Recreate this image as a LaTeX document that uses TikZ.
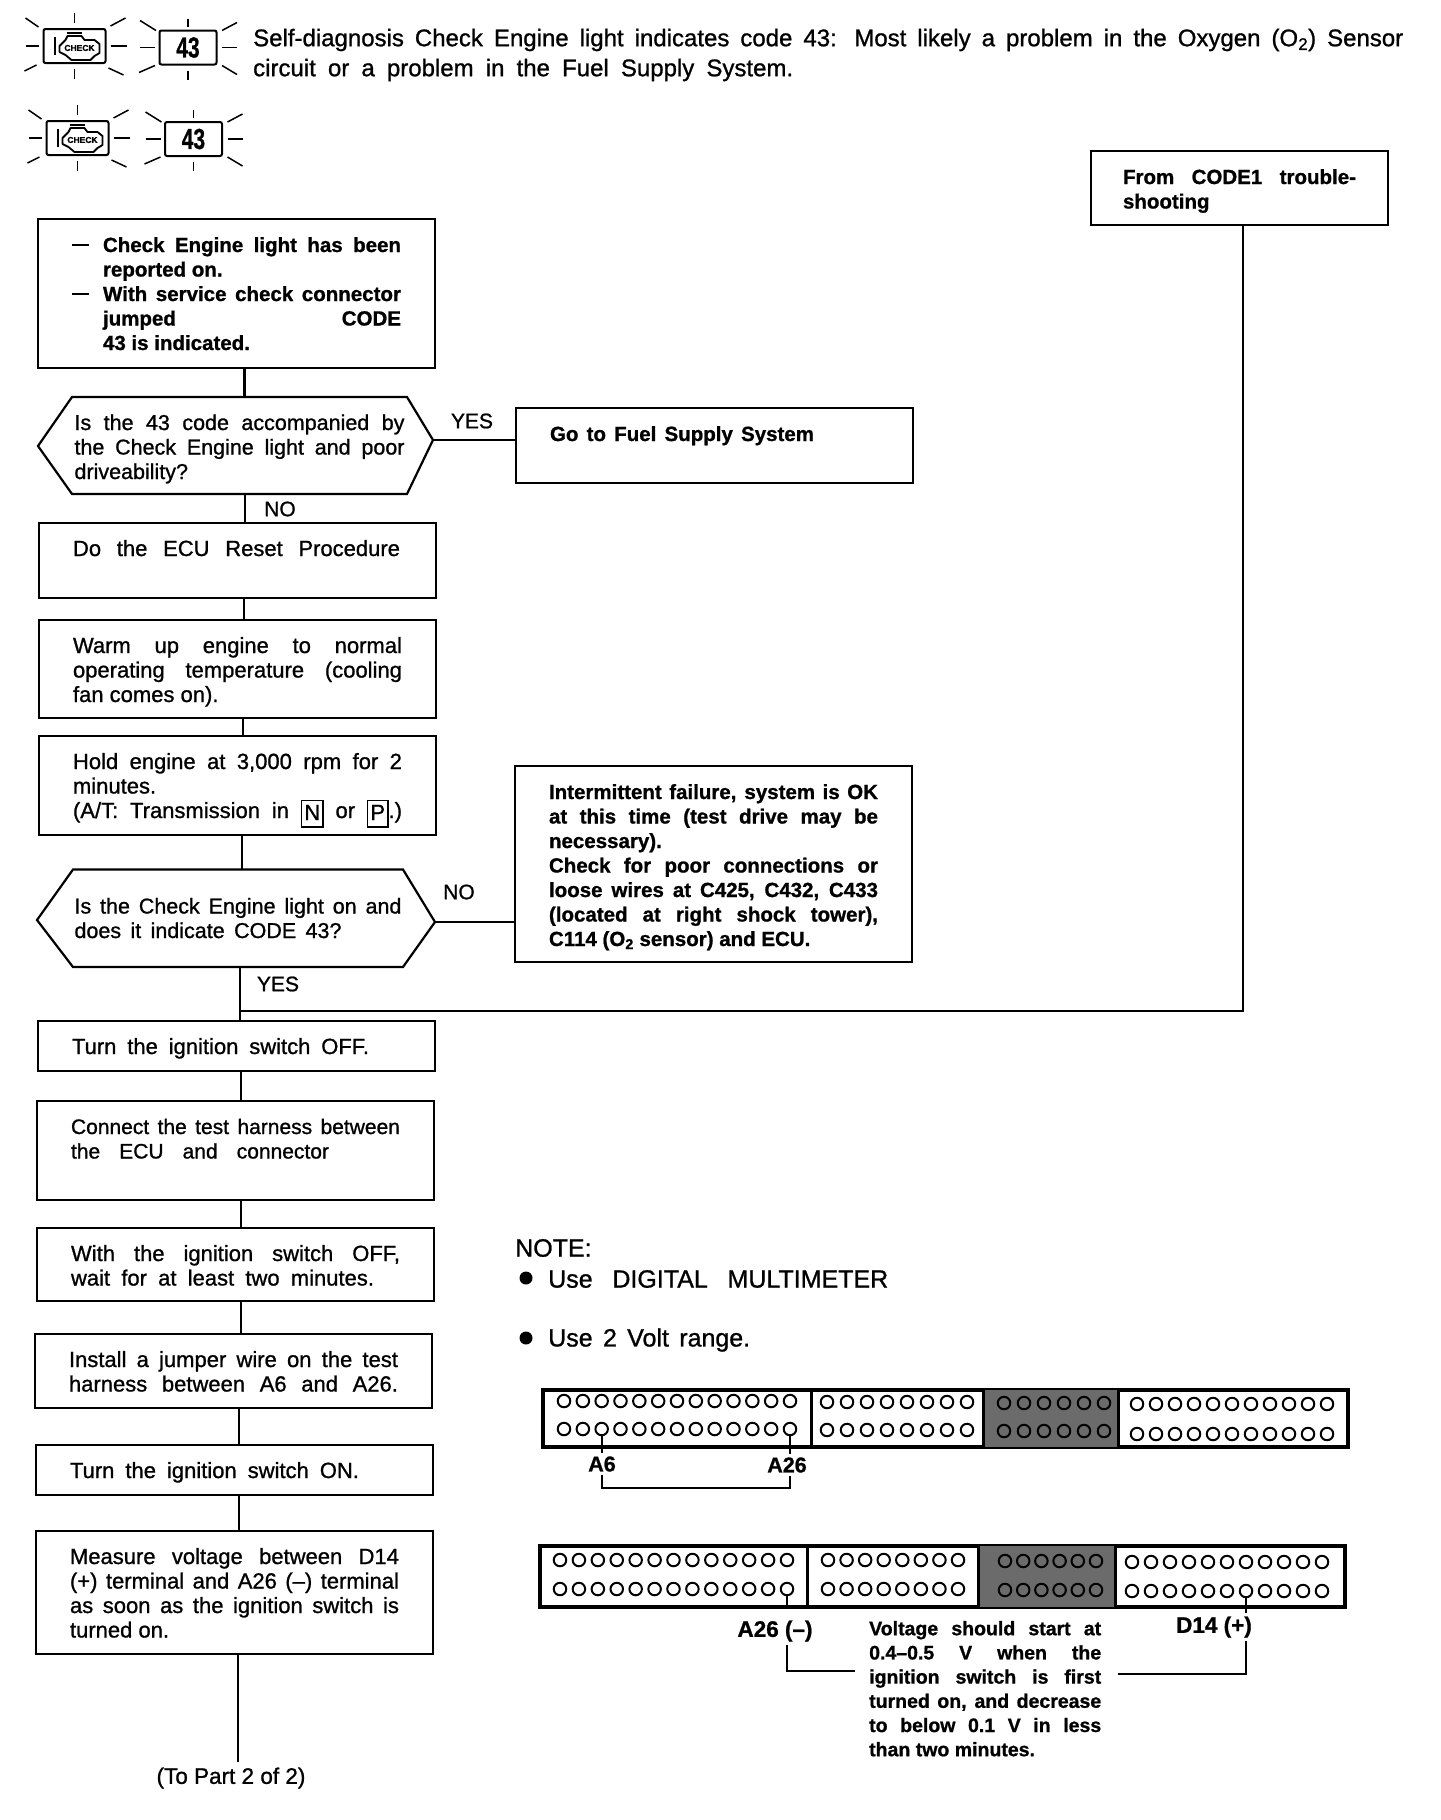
\documentclass[tikz,border=0pt]{standalone}
\usepackage{fontspec}
\setmainfont{Liberation Sans}[FakeBold=1]
\usetikzlibrary{shapes.symbols}
\tolerance=10000
\hbadness=10000
\hfuzz=30pt
\newcommand{\keycap}[1]{\smash{\raisebox{-2pt}{\setlength{\fboxsep}{2pt}\setlength{\fboxrule}{1.5pt}\fbox{\rule[-4pt]{0pt}{21pt}#1}}}}
\newcommand{\fitline}[2]{\makebox[#1pt][s]{#2}}
\newcommand{\itemdash}{\noindent\hbox to 31pt{\rule[6pt]{17pt}{1.8pt}\hfil}}
\newcommand{\connpins}[6]{%
    \foreach \i in {1,...,#4}{
        \node[pinhole] (#1u\i) at ({#2+(\i-1)*(#3-#2)/(#4-1)},#5) {};
        \node[pinhole] (#1l\i) at ({#2+(\i-1)*(#3-#2)/(#4-1)},#6) {};
    }}
\tikzset{
    stepbox/.style={draw,line width=2.2pt,anchor=north west,outer sep=0pt,inner xsep=34pt,inner ysep=10pt,align=justify,
        text width=329pt,text height=23pt,text depth=#1,font=\fontsize{22}{24.5}\selectfont},
    boldbox/.style={stepbox=#1,font=\fontsize{20.5}{24.5}\selectfont\bfseries},
    decibox/.style 2 args={anchor=north west,align=justify,outer sep=0pt,inner ysep=0pt,
        text height=#1,text depth=#2,font=\fontsize{21.5}{24.5}\selectfont},
    flowline/.style={line width=2.2pt},
    deciline/.style={line width=2.2pt,line join=miter},
    wireline/.style={line width=1.7pt},
    flowlabel/.style={font=\fontsize{21}{24}\selectfont},
    pinlabel/.style={font=\fontsize{21.5}{24}\selectfont\bfseries},
    pinhole/.style={draw,circle,line width=2pt,minimum size=12.5pt,inner sep=0pt},
    lampbox/.style={draw,line width=2pt,rounded corners=2pt,minimum width=57pt,minimum height=34pt,inner sep=0pt},
    lampengine/.style={draw,line width=2pt,rounded corners=2pt,minimum width=62pt,minimum height=34pt,inner sep=0pt},
    notetext/.style={anchor=west,inner sep=0pt,font=\fontsize{25}{28}\selectfont},
    notebullet/.style={circle,fill,minimum size=13pt,inner sep=0pt},
    connframe/.style={draw,line width=3.4pt,anchor=north west,outer sep=0pt,inner sep=0pt},
}
\begin{document}
\begin{tikzpicture}[x=1pt,y=-1pt]
    \useasboundingbox[fill=white] (0,0) rectangle (1440,1820);
    % flashing lamps
    \foreach \p/\cx/\cy in {a/74.5/46,b/77.5/138}{
        \node[lampengine] (engine\p) at (\cx,\cy) {};
        \begin{scope}[shift={(\cx,\cy)}]
            \draw[line width=1.8pt,line join=round] (-15,0) -- (-9,-6) -- (-7,-10) -- (7,-10) -- (10,-6) -- (20,-6) -- (25,-2) -- (25,7) -- (20,10) -- (16,14) -- (-3,14) -- (-9,9) -- (-15,6) -- cycle;
            \draw[line width=2pt] (-20,-9) -- (-20,9) (-8,-13) -- (7,-13);
            \node[inner sep=0pt,font=\fontsize{8.5}{9}\selectfont\bfseries] (enginetext\p) at (5,2) {CHECK};
            \foreach \ax/\ay/\bx/\by in {0/-33/0/-23,0/23/0/33,-49/0/-36/0,36/0/52/0,-49/-28/-36/-19,36/-20/51/-28,-50/25/-38/19,34/22/49/29}{
                \draw[line width=1.5pt] (\ax,\ay) -- (\bx,\by);
            }
        \end{scope}
    }
    \foreach \p/\cx/\cy in {a/188/47.5,b/193.5/139}{
        \node[lampbox] (code\p) at (\cx,\cy) {\fontsize{29}{30}\selectfont\bfseries\scalebox{0.72}[1]{43}};
        \begin{scope}[shift={(\cx,\cy)}]
            \foreach \ax/\ay/\bx/\by in {0/-29/0/-21,0/23/0/32,-48/0/-33/0,34/0/49/0,-48/-27/-32/-17,34/-17/49/-25,-49/25/-33/18,34/18/49/27}{
                \draw[line width=1.5pt] (\ax,\ay) -- (\bx,\by);
            }
        \end{scope}
    }
    \node[anchor=north west,inner sep=0pt,align=justify,text width=1150pt,text height=22pt,font=\fontsize{24}{30}\selectfont] (headline) at (253,24)
        {Self-diagnosis Check Engine light indicates code 43: Most likely a problem in the Oxygen (O\textsubscript{2}) Sensor\linebreak \fitline{540}{circuit or a problem in the Fuel Supply System.}};
    % flow boxes
    \node[boldbox=106pt] (stepa) at (38,219) {%
        \hangindent=31pt\hangafter=1\itemdash Check Engine light has been\linebreak reported on.\par
        \hangindent=31pt\hangafter=1\itemdash With service check connector\linebreak jumped\hfill CODE\linebreak 43 is indicated.\par};
    \node[decibox={33pt}{64pt},inner xsep=2.5pt,text width=330pt] (decia) at (72,397)
        {Is the 43 code accompanied by\linebreak the Check Engine light and poor\linebreak driveability?};
    \coordinate (deciaeast) at (433,440);
    \coordinate (deciawest) at (38,446);
    \draw[deciline] (decia.north west) -- (decia.north east) -- (deciaeast) -- (decia.south east) -- (decia.south west) -- (deciawest) -- cycle;
    \node[boldbox=32pt] (fuel) at (516,408) {\fitline{264}{Go to Fuel Supply System}};
    \node[stepbox=32pt] (stepc) at (39,523) {\fitline{327}{Do the ECU Reset Procedure}};
    \node[stepbox=55pt] (stepd) at (39,620) {Warm up engine to normal\linebreak operating temperature (cooling\linebreak fan comes on).};
    \node[stepbox=56pt] (stepe) at (39,736) {Hold engine at 3,000 rpm for 2\linebreak minutes.\hfill\linebreak \fitline{329}{(A/T: Transmission in \keycap{N} or \keycap{P}.)}};
    \node[decibox={44pt}{53.5pt},inner xsep=1.5pt,text width=327pt] (decib) at (73,869.5)
        {Is the Check Engine light on and\linebreak \fitline{267}{does it indicate CODE 43?}};
    \coordinate (decibeast) at (435,922);
    \coordinate (decibwest) at (37,920);
    \draw[deciline] (decib.north west) -- (decib.north east) -- (decibeast) -- (decib.south east) -- (decib.south west) -- (decibwest) -- cycle;
    \node[boldbox=153pt] (intermit) at (515,766) {Intermittent failure, system is OK\linebreak at this time (test drive may be\linebreak necessary).\par
        Check for poor connections or\linebreak loose wires at C425, C432, C433\linebreak (located at right shock tower),\linebreak C114 (O\textsubscript{2} sensor) and ECU.};
    \node[boldbox=31pt,text width=233pt,inner xsep=32pt] (codeone) at (1091,151) {From CODE1 trouble-\linebreak shooting};
    \node[stepbox=7pt] (stepf) at (38,1021) {\fitline{297}{Turn the ignition switch OFF.}};
    \node[stepbox=56pt,font=\fontsize{21}{24.5}\selectfont] (stepg) at (37,1101) {Connect the test harness between\linebreak \fitline{258}{the ECU and connector}};
    \node[stepbox=30pt] (steph) at (37,1228) {\fitline{329}{With the ignition switch OFF,}\linebreak \fitline{303}{wait for at least two minutes.}};
    \node[stepbox=31pt] (stepi) at (35,1334) {\fitline{329}{Install a jumper wire on the test}\linebreak \fitline{329}{harness between A6 and A26.}};
    \node[stepbox=7pt] (stepj) at (36,1445) {\fitline{289}{Turn the ignition switch ON.}};
    \node[stepbox=80pt] (stepk) at (36,1531) {Measure voltage between D14\linebreak (+) terminal and A26 (--) terminal\linebreak as soon as the ignition switch is\linebreak turned on.};
    \node[inner sep=0pt,font=\fontsize{22.5}{24}\selectfont] (topart) at (231,1778) {(To Part 2 of 2)};
    \coordinate (flowend) at (238,1762);
    \coordinate (joinyes) at (240,1011);
    % connecting lines
    \foreach \p/\q/\s in {stepa.south/decia.north/8,decia.south/stepc.north/5.5,stepc.south/stepd.north/6.5,stepd.south/stepe.north/5.5,stepe.south/decib.north/4.5,decib.south/stepf.north/2,stepf.south/stepg.north/4.5,stepg.south/steph.north/5.5,steph.south/stepi.north/5.5,stepi.south/stepj.north/5.5,stepj.south/stepk.north/4.5}{
        \draw[flowline] ([xshift=\s pt]\p) -- ([xshift=\s pt]\p |- \q);
    }
    \draw[flowline] (stepk.south -| flowend) -- (flowend);
    \draw[flowline] (deciaeast) -- (fuel.west |- deciaeast);
    \draw[flowline] (decibeast) -- (intermit.west |- decibeast);
    \draw[flowline] ([xshift=3.5pt]codeone.south) |- (joinyes);
    \node[flowlabel] (yesa) at (472,421) {YES};
    \node[flowlabel] (noa) at (280,509) {NO};
    \node[flowlabel] (nob) at (459,892) {NO};
    \node[flowlabel] (yesb) at (278,984) {YES};
    % note
    \node[notetext] (notehead) at (515,1248) {NOTE:};
    \node[notebullet] (bulleta) at (526,1278) {};
    \node[notetext] (notea) at (548,1279) {\fitline{340}{Use DIGITAL MULTIMETER}};
    \node[notebullet] (bulletb) at (526,1338) {};
    \node[notetext] (noteb) at (548,1340) {\fitline{202}{Use 2 Volt range.}};
    % upper connector
    \node[connframe,minimum width=805pt,minimum height=57pt] (connup) at (543,1390) {};
    \fill[black!58] (983,1390) rectangle (1118,1447);
    \draw[line width=3pt] (811,1390) -- (811,1447) (983,1390) -- (983,1447) (1118,1390) -- (1118,1447);
    \connpins{aa}{564}{790}{13}{1401}{1429}
    \connpins{ab}{827}{967}{8}{1402}{1430}
    \connpins{ac}{1004}{1104}{6}{1403}{1431}
    \connpins{ad}{1137}{1327}{11}{1404}{1434}
    \node[pinlabel] (labsix) at (602,1464) {A6};
    \node[pinlabel] (labtwosix) at (787,1465) {A26};
    \coordinate (bracket) at (700,1488);
    \draw[wireline] (aal3.south) -- (aal3.south |- labsix.north);
    \draw[wireline] (aal13.south) -- (aal13.south |- labtwosix.north);
    \draw[wireline] (aal3 |- labsix.south) |- (bracket) -| (aal13 |- labtwosix.south);
    % lower connector
    \node[connframe,minimum width=805pt,minimum height=61pt] (conndown) at (540,1546) {};
    \fill[black!58] (978,1546) rectangle (1115,1607);
    \draw[line width=3pt] (807,1546) -- (807,1607) (978,1546) -- (978,1607) (1115,1546) -- (1115,1607);
    \connpins{ba}{560}{787}{13}{1560}{1589}
    \connpins{bb}{828}{958}{8}{1560}{1589}
    \connpins{bc}{1005}{1096}{6}{1561}{1590}
    \connpins{bd}{1132}{1322}{11}{1562}{1591}
    \node[pinlabel,font=\fontsize{22.5}{24}\selectfont\bfseries] (labminus) at (775,1631) {A26 (--)};
    \node[pinlabel,font=\fontsize{22.5}{24}\selectfont\bfseries] (labplus) at (1214,1627) {D14 (+)};
    \node[anchor=north west,inner sep=0pt,align=justify,text width=232pt,text height=23pt,font=\fontsize{19.5}{24.2}\selectfont\bfseries] (volt) at (869,1612)
        {Voltage should start at\linebreak 0.4--0.5 V when the\linebreak ignition switch is first\linebreak turned on, and decrease\linebreak to below 0.1 V in less\linebreak than two minutes.};
    \coordinate (voltleft) at (855,1671);
    \coordinate (voltright) at (1118,1674);
    \draw[wireline] (bal13.south) -- (bal13.south |- 0,1608);
    \draw[wireline] (bdl7.south) -- (bdl7.south |- 0,1613);
    \draw[wireline] (bal13 |- labminus.south) |- (voltleft);
    \draw[wireline] (bdl7 |- labplus.south) |- (voltright);
\end{tikzpicture}
\end{document}
